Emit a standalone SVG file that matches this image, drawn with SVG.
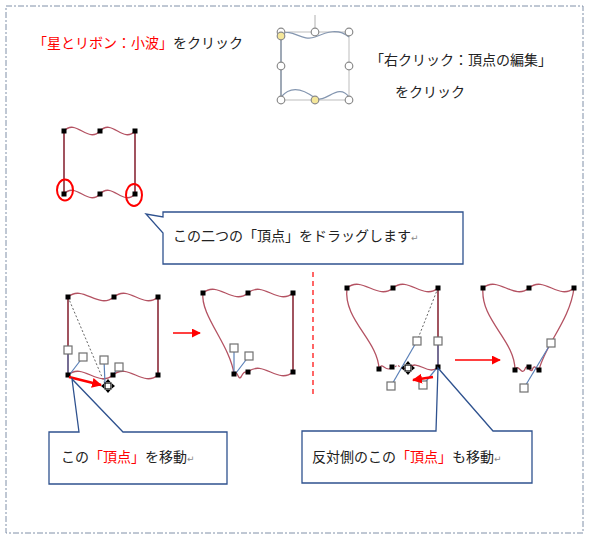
<svg xmlns="http://www.w3.org/2000/svg" width="590" height="542" viewBox="0 0 590 542">
<defs>
<style>
.t{font-family:"Noto Sans CJK JP","Liberation Sans",sans-serif;font-size:14px;fill:#222}
.r{fill:#ff0000}
.ret{font-family:"DejaVu Sans",sans-serif;font-size:9px;fill:#888}
.sh{fill:none;stroke:#b45262;stroke-width:1.3}
.ed{fill:none;stroke:#8a2a38;stroke-width:1.6}
.v{fill:#000}
.hd{fill:#fff;stroke:#707070;stroke-width:1.2}
.hl{stroke:#5a80b8;stroke-width:1.2}
.co{fill:#fff;stroke:#2f528f;stroke-width:1.3}
.dot{stroke:#666;stroke-width:1;stroke-dasharray:2 2;fill:none}
.ra{stroke:#ff0000;stroke-width:1.5;fill:none}
.cc{fill:#fff;stroke:#8a8a8a;stroke-width:1.2}
</style>
<marker id="ah" viewBox="0 0 10 10" refX="9" refY="5" markerWidth="6" markerHeight="6" orient="auto" markerUnits="strokeWidth">
<path d="M0,0 L10,5 L0,10 Z" fill="#ff0000"/>
</marker>
<marker id="ah2" viewBox="0 0 10 10" refX="9" refY="5" markerWidth="4" markerHeight="4" orient="auto" markerUnits="strokeWidth">
<path d="M0,0 L10,5 L0,10 Z" fill="#ff0000"/>
</marker>
<g id="mv">
<rect x="-3" y="-3" width="6" height="6" fill="#fff" stroke="#000" stroke-width="1.2"/>
<path d="M0,-7 L-2.5,-4 H2.5 Z M0,7 L-2.5,4 H2.5 Z M-7,0 L-4,-2.5 V2.5 Z M7,0 L4,-2.5 V2.5 Z" fill="#000"/>
</g>
</defs>
<rect width="590" height="542" fill="#fff"/>
<rect x="6" y="6" width="577" height="527" fill="none" stroke="#8090a8" stroke-width="1" stroke-dasharray="6 2 2 2"/>

<g id="title1">
<text class="t" x="33" y="48"><tspan class="r">「星とリボン：小波」</tspan>をクリック</text>
</g>

<g id="wave-icon">
<line x1="315" y1="15" x2="315" y2="28" stroke="#b0b0b0"/>
<rect x="281" y="32" width="68" height="68" fill="none" stroke="#c8c8c8" stroke-width="1.2"/>
<line x1="281" y1="32" x2="281" y2="100" stroke="#8a97a8" stroke-width="1.5"/>
<path d="M281,34 C292,28 302,42 315,37 C327,32 338,28 349,37" fill="none" stroke="#8496b0" stroke-width="1.2"/>
<path d="M281,97 C290,86 302,88 315,98 C326,104 338,82 349,97" fill="none" stroke="#8496b0" stroke-width="1.2"/>
<circle class="cc" cx="281" cy="32" r="3.8"/>
<circle class="cc" cx="315" cy="32" r="3.8"/>
<circle class="cc" cx="349" cy="32" r="3.8"/>
<circle class="cc" cx="281" cy="66" r="3.8"/>
<circle class="cc" cx="349" cy="66" r="3.8"/>
<circle class="cc" cx="281" cy="100" r="3.8"/>
<circle class="cc" cx="349" cy="100" r="3.8"/>
<circle cx="281" cy="36" r="3.8" fill="#f5e79a" stroke="#8a8a8a" stroke-width="1.2"/>
<circle cx="315" cy="100" r="3.8" fill="#f5e79a" stroke="#8a8a8a" stroke-width="1.2"/>
</g>

<g id="title2">
<text class="t" x="370" y="65">「右クリック：頂点の編集」</text>
<text class="t" x="395" y="97">をクリック</text>
</g>

<g id="shapeA">
<path class="sh" d="M64,131 C76,118 88,144 100,131 C112,118 123,144 135,131"/>
<path class="sh" d="M64,194 C76,181 88,207 100,194 C112,181 123,207 135,194"/>
<path class="ed" d="M64,131 V194 M135,131 V194"/>
<rect class="v" x="61.5" y="128.5" width="5" height="5"/>
<rect class="v" x="97.5" y="128.5" width="5" height="5"/>
<rect class="v" x="132.5" y="128.5" width="5" height="5"/>
<rect class="v" x="61.5" y="191.5" width="5" height="5"/>
<rect class="v" x="97.5" y="191.5" width="5" height="5"/>
<rect class="v" x="132.5" y="191.5" width="5" height="5"/>
<ellipse cx="65" cy="190" rx="8" ry="10.5" fill="none" stroke="#ff0000" stroke-width="2"/>
<ellipse cx="134" cy="195" rx="8" ry="11" fill="none" stroke="#ff0000" stroke-width="2"/>
</g>

<g id="callout1">
<path class="co" d="M163,212 H463 V264 H163 V233 L146,214 L163,217 Z"/>
<text class="t" x="173" y="241">この二つの「頂点」をドラッグします<tspan class="ret">↵</tspan></text>
</g>

<g id="shapeB1">
<line class="dot" x1="68" y1="297" x2="105" y2="384"/>
<path class="sh" d="M68,297 C83,284 98,310 114,297 C129,284 143,310 158,297"/>
<path class="sh" d="M68,375 C83,362 98,388 113,375 C128,362 143,388 158,375"/>
<path class="ed" d="M68,297 V375 M158,297 V375"/>
<line class="hl" x1="68" y1="350" x2="68" y2="375"/>
<line class="hl" x1="83" y1="357" x2="70" y2="374"/>
<line class="hl" x1="104" y1="360" x2="105" y2="384"/>
<line class="hl" x1="119" y1="367" x2="113" y2="375"/>
<rect class="hd" x="64" y="346" width="8" height="8"/>
<rect class="hd" x="79" y="353" width="8" height="8"/>
<rect class="hd" x="100" y="356" width="8" height="8"/>
<rect class="hd" x="115" y="363" width="8" height="8"/>
<rect class="v" x="65.5" y="294.5" width="5" height="5"/>
<rect class="v" x="111.5" y="294.5" width="5" height="5"/>
<rect class="v" x="155.5" y="294.5" width="5" height="5"/>
<rect class="v" x="65.5" y="372.5" width="5" height="5"/>
<rect class="v" x="110.5" y="372.5" width="5" height="5"/>
<rect class="v" x="155.5" y="372.5" width="5" height="5"/>
<use href="#mv" x="108" y="386"/>
<line x1="69" y1="377" x2="101" y2="385" stroke="#ff0000" stroke-width="2.5" marker-end="url(#ah2)"/>
</g>

<g id="shapeB2">
<path class="sh" d="M203,293 C218,280 233,306 248,293 C263,280 278,306 293,293"/>
<path class="sh" d="M248,372 C263,359 278,385 293,372"/>
<path class="sh" d="M203,293 C200,315 230,345 234,374"/>
<path class="sh" d="M234,374 C237,368 238,381 241,377 C244,371 245,372 248,372"/>
<path class="ed" d="M293,293 V372"/>
<line class="hl" x1="234" y1="348" x2="234" y2="374"/>
<line class="hl" x1="249" y1="356" x2="236" y2="373"/>
<rect class="hd" x="230" y="344" width="8" height="8"/>
<rect class="hd" x="245" y="352" width="8" height="8"/>
<rect class="v" x="200.5" y="290.5" width="5" height="5"/>
<rect class="v" x="245.5" y="290.5" width="5" height="5"/>
<rect class="v" x="290.5" y="290.5" width="5" height="5"/>
<rect class="v" x="290.5" y="369.5" width="5" height="5"/>
<rect class="v" x="245.5" y="369.5" width="5" height="5"/>
<rect class="v" x="231.5" y="371.5" width="5" height="5"/>
</g>

<g id="shapeB3">
<line class="dot" x1="438" y1="288" x2="417" y2="341"/>
<path class="sh" d="M347,288 C362,275 378,301 393,288 C408,275 423,301 438,288"/>
<path class="sh" d="M347,288 C343,320 378,340 379,369"/>
<path class="sh" d="M379,369 C382,360 386,374 392,367"/>
<path d="M395,367 C399,362 402,372 405,368" fill="none" stroke="#b45262" stroke-width="1.2" stroke-dasharray="2 1.5"/>
<path class="sh" d="M408,368 C418,358 428,377 438,367"/>
<path class="ed" d="M438,288 V367"/>
<line class="hl" x1="417" y1="341" x2="391" y2="386"/>
<line class="hl" x1="438" y1="341" x2="438" y2="367" stroke-width="2"/>
<line class="hl" x1="423" y1="385" x2="436" y2="369"/>
<rect class="hd" x="413" y="337" width="8" height="8"/>
<rect class="hd" x="434" y="337" width="8" height="8"/>
<rect class="hd" x="387" y="382" width="8" height="8"/>
<rect class="hd" x="419" y="381" width="8" height="8"/>
<rect class="v" x="344.5" y="285.5" width="5" height="5"/>
<rect class="v" x="390.5" y="285.5" width="5" height="5"/>
<rect class="v" x="435.5" y="285.5" width="5" height="5"/>
<rect class="v" x="376.5" y="366.5" width="5" height="5"/>
<rect class="v" x="389.5" y="364.5" width="5" height="5"/>
<rect class="v" x="435.5" y="364.5" width="5" height="5"/>
<use href="#mv" x="408" y="368"/>
<line x1="433" y1="377" x2="413" y2="380" stroke="#ff0000" stroke-width="2.5" marker-end="url(#ah2)"/>
</g>

<g id="shapeB4">
<path class="sh" d="M483,288 C498,275 514,301 529,288 C544,275 559,301 574,288"/>
<path class="sh" d="M483,288 C480,320 515,340 515,370"/>
<path class="sh" d="M574,288 C570,320 545,345 539,370"/>
<path class="sh" d="M515,370 C518,362 522,377 525,369 C527,362 531,376 533,368 C535,364 537,372 539,370"/>
<line class="hl" x1="551" y1="343" x2="524" y2="388"/>
<rect class="hd" x="547" y="339" width="8" height="8"/>
<rect class="hd" x="520" y="384" width="8" height="8"/>
<rect class="v" x="480.5" y="285.5" width="5" height="5"/>
<rect class="v" x="526.5" y="285.5" width="5" height="5"/>
<rect class="v" x="571.5" y="285.5" width="5" height="5"/>
<rect class="v" x="512.5" y="367.5" width="5" height="5"/>
<rect class="v" x="526.5" y="364.5" width="5" height="5"/>
<rect class="v" x="536.5" y="367.5" width="5" height="5"/>
</g>

<g id="connectors">
<line class="ra" x1="173" y1="333" x2="200" y2="333" marker-end="url(#ah)"/>
<line class="ra" x1="455" y1="360" x2="500" y2="360" marker-end="url(#ah)"/>
<line x1="313" y1="272" x2="313" y2="398" stroke="#ff0000" stroke-width="1.2" stroke-dasharray="5 4"/>
</g>

<g id="callout2">
<path class="co" d="M49,432 H79 L72,379 L123,432 H227 V484 H49 Z"/>
<text class="t" x="61" y="462">この<tspan class="r">「頂点」</tspan>を移動<tspan class="ret">↵</tspan></text>
</g>

<g id="callout3">
<path class="co" d="M302,431 H436 L438,368 L493,431 H532 V483 H302 Z"/>
<text class="t" x="312" y="462">反対側のこの<tspan class="r">「頂点」</tspan>も移動<tspan class="ret">↵</tspan></text>
</g>
</svg>
